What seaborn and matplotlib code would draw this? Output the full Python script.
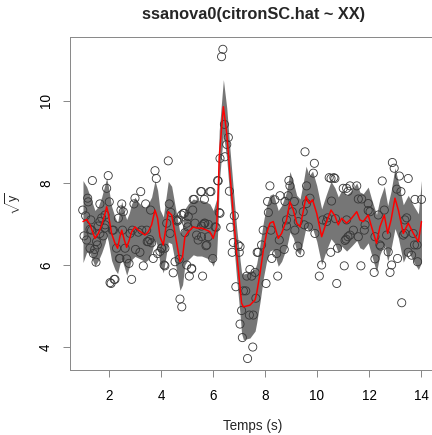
import numpy as np
import pandas as pd
import matplotlib
matplotlib.use("Agg")
import matplotlib.pyplot as plt
import seaborn as sns

# ---- data ----
fit_x = [1.00, 1.14, 1.27, 1.46, 1.59, 1.72, 1.85, 1.91, 1.97, 2.10, 2.23, 2.33, 2.42, 2.49,
         2.59, 2.68, 2.78, 2.87, 3.00, 3.13, 3.26, 3.38, 3.51, 3.64, 3.77, 3.87, 3.96, 4.09,
         4.28, 4.41, 4.54, 4.73, 4.83, 4.92, 5.05, 5.24, 5.37, 5.56, 5.76, 5.88, 6.01, 6.14,
         6.20, 6.24, 6.40, 6.53, 6.65, 6.78, 6.91, 7.04, 7.10, 7.17, 7.42, 7.62, 7.68, 7.81,
         7.94, 8.06, 8.19, 8.32, 8.51, 8.64, 8.83, 8.96, 9.09, 9.22, 9.35, 9.47, 9.58, 9.70,
         9.83, 9.99, 10.18, 10.35, 10.54, 10.69, 10.82, 10.95, 11.14, 11.33, 11.53, 11.65,
         11.78, 11.97, 12.10, 12.29, 12.42, 12.59, 12.72, 12.85, 13.00, 13.13, 13.32, 13.51,
         13.71, 13.90, 14.02]
fit_y = [7.06, 7.11, 6.98, 6.65, 6.77, 6.98, 7.26, 7.42, 7.26, 6.77, 6.53, 6.41, 6.69, 6.85,
         6.61, 6.43, 6.61, 6.81, 6.93, 6.85, 6.79, 6.73, 6.81, 6.98, 7.34, 7.14, 6.69, 6.49,
         7.30, 7.22, 6.77, 6.08, 6.20, 6.69, 6.81, 6.93, 6.90, 6.90, 6.85, 6.81, 6.65, 6.93,
         7.75, 8.64, 9.86, 9.21, 8.24, 7.26, 6.29, 5.47, 5.07, 4.98, 5.02, 5.15, 5.31, 5.80,
         6.37, 6.77, 7.02, 7.06, 6.65, 6.77, 7.10, 7.54, 7.34, 7.02, 6.93, 7.30, 7.67, 7.50,
         7.59, 7.26, 6.69, 7.02, 7.34, 7.20, 6.98, 7.14, 7.02, 7.14, 7.30, 7.10,
         7.06, 7.22, 6.93, 6.53, 6.93, 7.22, 6.77, 7.10, 7.63, 7.34, 6.77, 7.02,
         6.77, 6.57, 7.06]
band_hw = [1.00, 0.80, 0.70, 0.68, 0.66, 0.68, 0.72, 0.70, 0.68, 0.66, 0.64, 0.62, 0.66, 0.70,
           0.66, 0.68, 0.66, 0.68, 0.72, 0.68, 0.66, 0.66, 0.68, 0.68, 0.72, 0.68, 0.66, 0.68,
           0.74, 0.70, 0.68, 0.70, 0.68, 0.68, 0.68, 0.68, 0.68, 0.68, 0.68, 0.68, 0.68, 0.68,
           0.66, 0.64, 0.66, 0.62, 0.60, 0.60, 0.62, 0.66, 0.74, 0.80, 0.80, 0.76, 0.72, 0.70,
           0.68, 0.68, 0.68, 0.68, 0.68, 0.68, 0.68, 0.74, 0.68, 0.68, 0.68, 0.70, 0.74, 0.68,
           0.70, 0.68, 0.68, 0.68, 0.70, 0.68, 0.68, 0.68, 0.68, 0.68, 0.70, 0.68,
           0.68, 0.68, 0.68, 0.70, 0.68, 0.70, 0.68, 0.70, 0.74, 0.68, 0.70, 0.68,
           0.68, 0.68, 1.00]

obs_x = [0.99, 1.18, 1.20, 1.36, 1.65, 1.97, 1.91, 2.01, 1.85, 1.04, 1.14, 1.27, 1.40, 1.50,
         1.55, 1.33, 1.65, 1.78, 2.04, 1.65, 1.85, 1.83, 1.27, 1.52, 1.45, 1.10, 1.30, 1.58,
         1.72, 2.20, 2.13, 2.29, 2.40, 2.62, 2.68, 2.77, 2.87, 2.81, 3.19, 3.32, 3.51, 3.64,
         3.70, 3.87, 4.02, 4.12, 2.49, 2.46, 2.36, 3.22, 3.00, 2.96, 3.41, 3.60, 3.77, 3.82,
         2.17, 2.52, 2.90, 3.26, 3.45, 3.13, 3.47, 3.57, 2.42, 3.02, 3.96, 2.23, 2.08, 2.55,
         4.28, 4.32, 4.38, 4.63, 4.79, 4.90, 5.03, 5.22, 5.28, 5.53, 5.67, 5.92, 6.18, 6.24,
         5.67, 4.35, 4.47, 4.54, 4.70, 4.73, 4.80, 4.99, 5.09, 5.18, 5.60, 5.99, 4.60, 5.63,
         5.82, 6.12, 5.82, 5.56, 5.73, 5.56, 5.56, 5.24, 5.88, 4.86, 5.05, 4.67, 4.99, 5.31,
         5.69, 6.08, 4.22, 4.92, 5.37, 5.43, 5.76, 4.03, 4.15, 4.15, 5.18,
         6.33, 6.38, 6.44, 6.59, 6.53, 6.46, 6.63, 6.82, 6.27, 6.20, 6.68, 6.78, 6.97, 6.74,
         7.01, 6.88, 7.42, 7.30, 7.49, 7.17, 7.26, 7.70, 7.62, 7.10, 7.40, 7.55, 7.04, 7.13,
         7.53, 7.33, 7.65, 7.04, 6.27,
         7.74, 7.87, 8.04, 7.93, 8.26, 8.45, 8.49, 8.55, 8.74, 8.23, 9.26, 9.35, 9.15, 9.92,
         10.18, 10.09, 10.53, 9.54, 9.90, 9.86, 8.19, 8.92, 10.54, 10.65, 8.58, 8.38, 8.10,
         9.13, 8.77, 8.96, 9.73, 9.60, 9.47, 8.13, 8.83, 8.83, 9.28, 10.22, 10.37, 9.67,
         10.56, 9.60, 8.89, 9.51, 10.41, 10.47, 9.05,
         12.90, 12.97, 13.17, 13.51, 12.51, 11.27, 11.53, 11.14, 11.01, 10.69, 13.07, 13.23,
         11.59, 11.72, 11.20, 13.77, 14.02, 11.97, 12.59, 11.97, 12.36, 13.38, 11.14, 10.71,
         11.85, 11.40, 11.82, 12.23, 12.68, 13.32, 11.19, 11.08, 11.59, 10.79, 12.45, 12.74,
         12.23, 13.51, 13.64, 13.75, 13.85, 13.87, 13.10, 11.05, 11.69, 12.20, 12.81, 12.87,
         10.76, 13.26, 11.12, 11.27, 12.42, 13.38, 13.70, 12.04, 13.45]
obs_y = [7.34, 7.63, 7.54, 8.06, 7.49, 8.18, 7.87, 7.54, 7.22, 6.71, 6.61, 6.41, 6.28, 6.07,
         6.49, 6.85, 6.77, 6.71, 5.57, 7.06, 6.98, 6.90, 6.87, 6.57, 6.38, 7.20, 7.10, 6.95,
         7.15, 5.65, 6.85, 6.41, 6.16, 6.41, 6.15, 6.04, 5.65, 6.77, 6.31, 5.98, 6.57, 6.54,
         6.16, 6.28, 6.41, 6.00, 7.49, 7.34, 7.14, 7.79, 7.63, 7.49, 7.49, 7.34, 8.30, 8.11,
         6.85, 6.85, 6.85, 6.85, 6.85, 6.80, 6.57, 6.62, 6.16, 6.38, 6.33, 5.65, 5.55, 7.30,
         8.54, 7.49, 7.28, 7.07, 7.22, 7.26, 6.93, 7.34, 7.60, 7.79, 7.60, 7.79, 8.06, 7.28,
         7.02, 6.77, 5.81, 6.08, 6.14, 5.17, 4.98, 6.00, 5.73, 5.90, 5.73, 6.16, 7.10, 6.99,
         6.99, 6.92, 6.69, 6.69, 6.47, 7.79, 6.95, 7.60, 7.79, 7.26, 7.18, 7.10, 7.02, 7.02,
         7.02, 6.93, 7.02, 6.79, 6.73, 6.61, 6.49, 6.41, 6.41, 5.98, 5.92,
         11.08, 11.26, 9.43, 9.11, 8.94, 8.64, 7.80, 7.20, 8.60, 8.05, 6.92, 6.55, 6.49, 6.31,
         6.31, 5.47, 5.89, 5.73, 5.73, 5.37, 5.37, 6.31, 5.82, 4.89, 4.78, 4.78, 4.56, 4.23,
         4.00, 3.72, 5.19, 6.45, 7.26,
         6.31, 6.49, 5.55, 6.85, 6.16, 6.28, 5.73, 6.61, 6.38, 6.85, 6.46, 6.30, 6.85, 6.77,
         6.00, 5.73, 6.31, 8.76, 8.48, 8.24, 7.93, 8.06, 8.11, 8.13, 7.69, 7.59, 7.55,
         7.55, 7.55, 7.93, 7.63, 7.50, 7.30, 7.28, 7.10, 6.95, 7.06, 7.10, 7.06, 6.93,
         7.56, 7.93, 7.69, 6.98, 7.15, 8.13, 7.30,
         8.50, 8.36, 8.17, 8.11, 8.05, 7.93, 7.93, 7.87, 7.87, 8.11, 7.85, 7.79,
         7.61, 7.61, 7.80, 7.60, 7.60, 7.50, 7.34, 7.33, 7.22, 7.10, 7.10, 7.13,
         6.98, 6.85, 6.85, 6.69, 6.73, 6.73, 6.69, 6.60, 6.69, 6.41, 6.46, 6.32,
         6.15, 6.31, 6.24, 6.49, 6.49, 6.08, 6.16, 5.98, 5.98, 5.82, 5.82, 6.00,
         5.55, 5.08, 6.63, 6.73, 6.49, 6.77, 6.77, 7.30, 7.15]

x_ticks = [2, 4, 6, 8, 10, 12, 14]
y_ticks = [4, 6, 8, 10]
title_text = "ssanova0(citronSC.hat ~ XX)"
x_label = "Temps (s)"
y_label = r"$\sqrt{\mathrm{y}}$"

# ---- plotting ----
sns.set_style("ticks")
plt.rcParams["font.family"] = ["Liberation Sans", "DejaVu Sans"]
plt.rcParams["mathtext.fontset"] = "custom"
plt.rcParams["mathtext.rm"] = "Liberation Sans"
plt.rcParams["mathtext.it"] = "Liberation Sans:italic"

W, H = 432, 435
fig = plt.figure(figsize=(W / 72, H / 72), dpi=72)
L, R, T, B = 70, 435, 37, 370
ax = fig.add_axes([L / W, (H - B) / H, (R - L) / W, (B - T) / H])

fit_df = pd.DataFrame({"x": fit_x, "y": fit_y, "hw": band_hw})
obs_df = pd.DataFrame({"x": obs_x, "y": obs_y})

ax.fill_between(fit_df["x"], fit_df["y"] - fit_df["hw"], fit_df["y"] + fit_df["hw"],
                color="#767676", linewidth=0, zorder=1)
sns.scatterplot(data=obs_df, x="x", y="y", ax=ax, marker="o", s=66,
                facecolor="none", edgecolor="#383838", linewidth=0.85, zorder=2)
sns.lineplot(data=fit_df, x="x", y="y", ax=ax, color="red", linewidth=1.5,
             sort=False, zorder=3)

ax.set_xlim(0.5, 14.54)
ax.set_ylim(3.44, 11.56)
ax.set_xticks(x_ticks)
ax.set_xticklabels([str(t) for t in x_ticks])
ax.set_yticks(y_ticks)
ax.set_yticklabels([str(t) for t in y_ticks], rotation=90, va="center")

for sp in ax.spines.values():
    sp.set_visible(True)
    sp.set_color("#8a8a8a")
    sp.set_linewidth(1.0)
ax.tick_params(direction="out", length=7, width=1, color="#8a8a8a",
               labelsize=13.5, labelcolor="black")
ax.tick_params(axis="x", pad=12)
ax.tick_params(axis="y", pad=10)

ax.set_xlabel(x_label, fontsize=13.5)
ax.set_ylabel(y_label, fontsize=12.5)
ax.xaxis.set_label_coords(0.5, -0.148)
ax.yaxis.set_label_coords(-0.13, 0.5)
fig.text(253.5 / W, 1 - 15 / H, title_text, ha="center", va="center",
         fontsize=16.4, fontweight="bold")

fig.savefig("out.png", dpi=72)
